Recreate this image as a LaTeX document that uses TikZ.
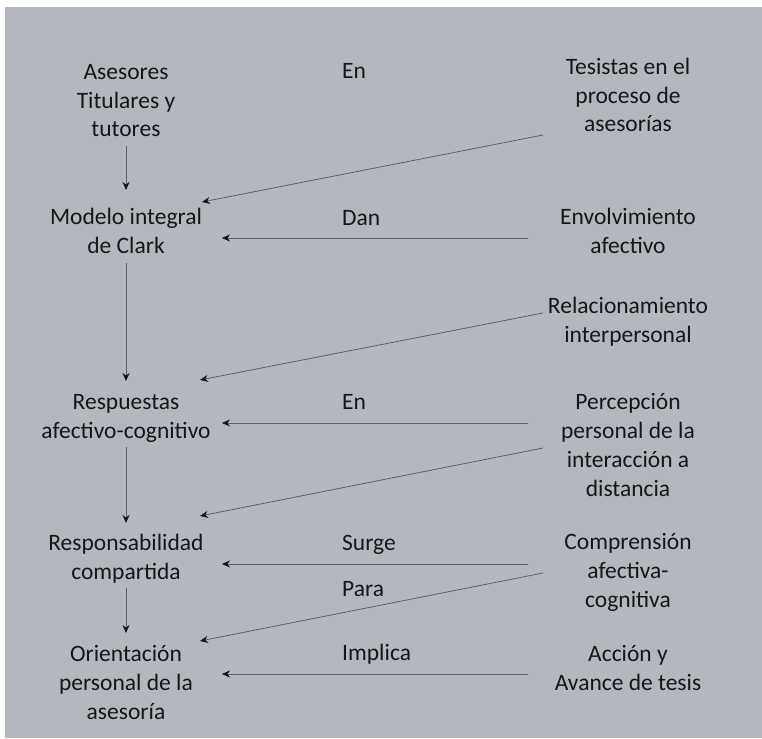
\documentclass[tikz,border=0pt]{standalone}
\usepackage{fontspec}
\setmainfont{Carlito}
\usetikzlibrary{arrows.meta}
\definecolor{bg}{RGB}{180,184,190}
\definecolor{ln}{RGB}{95,95,95}
\definecolor{tx}{RGB}{22,22,22}
\begin{document}
\begin{tikzpicture}[x=1pt,y=-1pt,
  lbl/.style={font=\fontsize{23.5}{28.8}\selectfont, text=tx, align=center, anchor=base, inner sep=0pt},
  mid/.style={font=\fontsize{23.5}{28.8}\selectfont, text=tx, anchor=base west, inner sep=0pt},
  arr/.style={draw=ln, line width=0.8pt, -{Stealth[length=8pt,width=7pt,color=tx,fill=tx]}}]
\fill[white] (0,0) rectangle (762,738);
\fill[bg] (5,7) rectangle (762,738);
\useasboundingbox (0,0) rectangle (762,738);

% left column (positions give the baseline of the last line)
\node[lbl] (asesores) at (126,137) {Asesores\\Titulares y\\tutores};
\node[lbl] (modelo) at (126,253) {Modelo integral\\de Clark};
\node[lbl] (respuestas) at (126,438) {Respuestas\\afectivo-cognitivo};
\node[lbl] (respons) at (126,579) {Responsabilidad\\compartida};
\node[lbl] (orient) at (126,719) {Orientación\\personal de la\\asesoría};

% right column
\node[lbl] (tesistas) at (628,132) {Tesistas en el\\proceso de\\asesorías};
\node[lbl] (envolv) at (628,253) {Envolvimiento\\afectivo};
\node[lbl] (relac) at (628,342) {Relacionamiento\\interpersonal};
\node[lbl] (percep) at (628,496) {Percepción\\personal de la\\interacción a\\distancia};
\node[lbl] (compren) at (628,607) {Comprensión\\afectiva-\\cognitiva};
\node[lbl] (accion) at (628,690) {Acción y\\Avance de tesis};

% middle labels
\node[mid] (en1) at (342,79) {En};
\node[mid] (dan) at (342,225) {Dan};
\node[mid] (en2) at (342,409) {En};
\node[mid] (surge) at (342,550) {Surge};
\node[mid] (para) at (342,596) {Para};
\node[mid] (implica) at (342,660) {Implica};

% connector end points
\coordinate (asesores-out) at (126,146);
\coordinate (modelo-top) at (126,190);
\coordinate (modelo-out) at (126,263);
\coordinate (respuestas-top) at (126,381);
\coordinate (respuestas-out) at (126,447);
\coordinate (respons-top) at (126,523);
\coordinate (respons-out) at (126,588);
\coordinate (orient-top) at (126,633);

\coordinate (tesistas-out) at (543,135);
\coordinate (modelo-in1) at (202,202);
\coordinate (envolv-out) at (528,238);
\coordinate (modelo-in2) at (222,238);
\coordinate (relac-out) at (543,313);
\coordinate (respuestas-in1) at (200,380);
\coordinate (percep-out1) at (528,423);
\coordinate (respuestas-in2) at (222,423);
\coordinate (percep-out2) at (543,448);
\coordinate (respons-in1) at (200,516);
\coordinate (compren-out1) at (528,564);
\coordinate (respons-in2) at (222,564);
\coordinate (compren-out2) at (543,573);
\coordinate (orient-in1) at (200,641);
\coordinate (accion-out) at (528,674);
\coordinate (orient-in2) at (222,674);

% vertical connectors
\draw[arr] (asesores-out) -- (modelo-top);
\draw[arr] (modelo-out) -- (respuestas-top);
\draw[arr] (respuestas-out) -- (respons-top);
\draw[arr] (respons-out) -- (orient-top);

% right-to-left connectors
\draw[arr] (tesistas-out) -- (modelo-in1);
\draw[arr] (envolv-out) -- (modelo-in2);
\draw[arr] (relac-out) -- (respuestas-in1);
\draw[arr] (percep-out1) -- (respuestas-in2);
\draw[arr] (percep-out2) -- (respons-in1);
\draw[arr] (compren-out1) -- (respons-in2);
\draw[arr] (compren-out2) -- (orient-in1);
\draw[arr] (accion-out) -- (orient-in2);
\end{tikzpicture}
\end{document}
